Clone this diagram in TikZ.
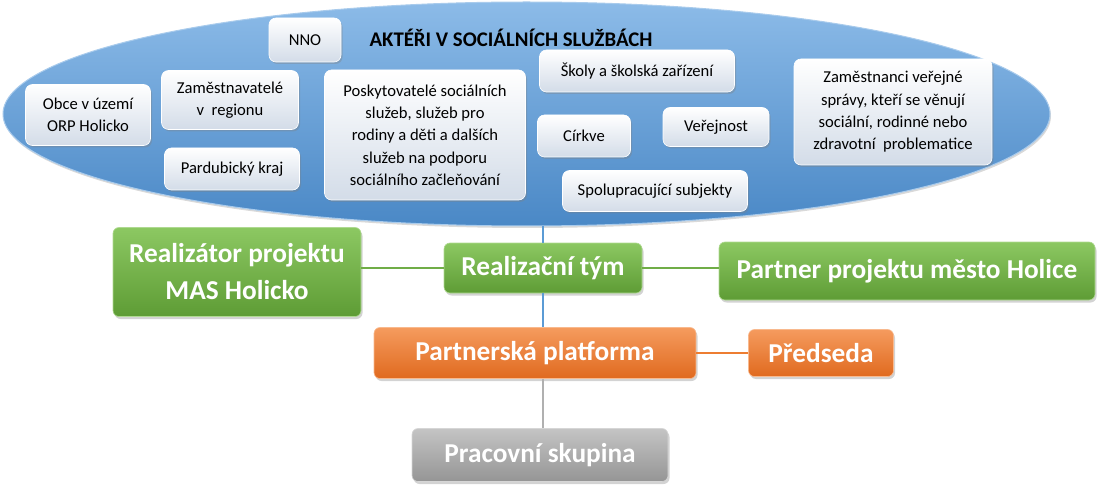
\documentclass[tikz,border=0pt]{standalone}
\usepackage{fontspec}
\setmainfont{Carlito}
\usetikzlibrary{shapes.geometric,shadows}
\definecolor{bluetop}{HTML}{8CBBE8}
\definecolor{bluemid}{HTML}{5B9BD5}
\definecolor{bluebot}{HTML}{4A88C6}
\definecolor{blueedge}{HTML}{A9CBEC}
\definecolor{boxbot}{HTML}{D3DCE8}
\definecolor{greentop}{HTML}{8CC862}
\definecolor{greenbot}{HTML}{5E9C35}
\definecolor{greenline}{HTML}{70AD47}
\definecolor{orangetop}{HTML}{F59B5E}
\definecolor{orangebot}{HTML}{E06A1F}
\definecolor{orangeline}{HTML}{ED7D31}
\definecolor{graytop}{HTML}{C4C4C4}
\definecolor{graybot}{HTML}{959595}
\definecolor{grayline}{HTML}{B0B0B0}
\tikzset{
  actor/.style={rectangle, rounded corners=7pt, draw=white, line width=0.6pt,
    top color=white, bottom color=boxbot, inner sep=2pt, align=center,
    font=\fontsize{16.6}{22.3}\selectfont, text=black,
    drop shadow={shadow xshift=1.5pt, shadow yshift=-2pt, opacity=0.35}},
  cbox/.style={rectangle, rounded corners=6pt, line width=0.6pt, inner sep=2pt,
    align=center, text=white, font=\fontsize{27.3}{37}\selectfont\bfseries,
    drop shadow={shadow xshift=1.5pt, shadow yshift=-2.5pt, opacity=0.35}},
  gbox/.style={cbox, draw=greentop!70!white, top color=greentop, bottom color=greenbot},
  obox/.style={cbox, draw=orangetop!70!white, top color=orangetop, bottom color=orangebot},
  ybox/.style={cbox, draw=graytop!70!white, top color=graytop, bottom color=graybot},
  conn/.style={line width=1.6pt},
}
\begin{document}
\begin{tikzpicture}[x=1pt,y=-1pt]
\useasboundingbox (0,0) rectangle (1100,489);
% big ellipse
\node[ellipse, minimum width=1047pt, minimum height=224pt, inner sep=0pt,
  draw=blueedge, line width=1pt, top color=bluetop, middle color=bluemid, bottom color=bluebot,
  drop shadow={shadow xshift=1pt, shadow yshift=-2pt, opacity=0.3}] (ell) at (526.5,114) {};
\node[font=\fontsize{20.8}{24}\selectfont\bfseries, text=black] (title) at (511,38) {AKTÉŘI V SOCIÁLNÍCH SLUŽBÁCH};
% actor boxes
\node[actor, minimum width=72pt, minimum height=44pt] (nno) at (305,40) {NNO};
\node[actor, minimum width=125pt, minimum height=61pt] (obce) at (88,115) {Obce v území\\ORP Holicko};
\node[actor, minimum width=137pt, minimum height=59pt] (zam) at (230,100) {Zaměstnavatelé\\v\ \ regionu};
\node[actor, minimum width=135pt, minimum height=42pt] (pk) at (232,169) {Pardubický kraj};
\node[actor, minimum width=201pt, minimum height=130pt] (posk) at (425,135) {Poskytovatelé sociálních\\služeb, služeb pro\\rodiny a děti a dalších\\služeb na podporu\\sociálního začleňování};
\node[actor, minimum width=195pt, minimum height=42pt] (skoly) at (637,71) {Školy a školská zařízení};
\node[actor, minimum width=93pt, minimum height=42pt] (cirkve) at (584,136) {Církve};
\node[actor, minimum width=106pt, minimum height=39pt] (ver) at (716,127) {Veřejnost};
\node[actor, minimum width=185pt, minimum height=41pt] (spol) at (655,191) {Spolupracující subjekty};
\node[actor, minimum width=198pt, minimum height=106pt] (zamv) at (893,112) {Zaměstnanci veřejné\\správy, kteří se věnují\\sociální, rodinné nebo\\zdravotní\ \ problematice};
% organisation boxes
\node[gbox, minimum width=248pt, minimum height=89pt] (real) at (237,272) {Realizátor projektu\\MAS Holicko};
\node[gbox, minimum width=198pt, minimum height=50pt] (rt) at (543,268) {Realizační tým};
\node[gbox, minimum width=376pt, minimum height=58pt] (partner) at (907,271) {Partner projektu město Holice};
\node[obox, minimum width=322pt, minimum height=51pt] (pp) at (535,353) {Partnerská platforma};
\node[obox, minimum width=145pt, minimum height=47pt] (pred) at (821,353) {Předseda};
\node[ybox, minimum width=256pt, minimum height=53pt] (pw) at (540,455) {Pracovní skupina};
% connectors
\draw[conn, draw=bluemid] (rt.north |- ell.south) -- (rt.north);
\draw[conn, draw=bluemid] (rt.south) -- (rt.south |- pp.north);
\draw[conn, draw=greenline] (real.east |- rt.west) -- (rt.west);
\draw[conn, draw=greenline] (rt.east) -- (partner.west |- rt.east);
\draw[conn, draw=orangeline] (pp.east) -- (pred.west);
\draw[conn, draw=grayline] (rt.south |- pp.south) -- (rt.south |- pw.north);
\end{tikzpicture}
\end{document}
